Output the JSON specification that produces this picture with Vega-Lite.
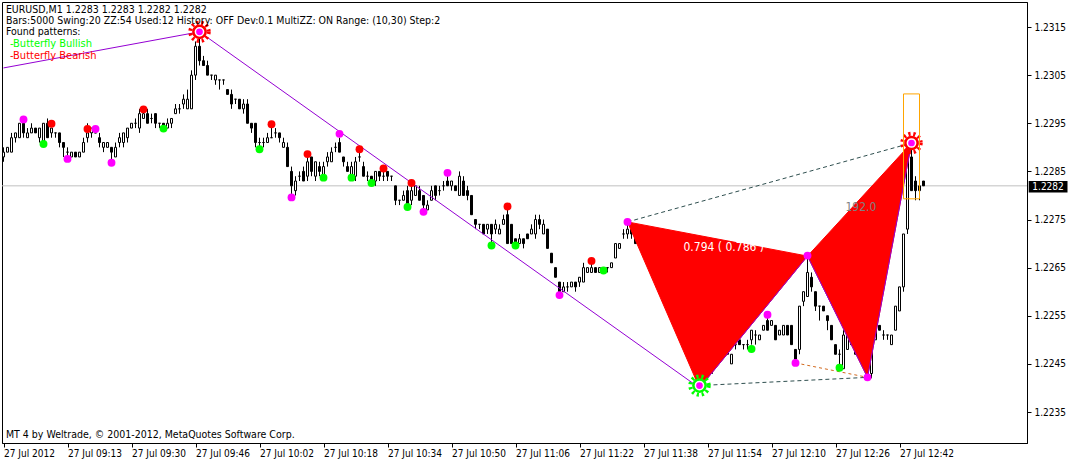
{
"$schema":"https://vega.github.io/schema/vega-lite/v6.json",
"width":1025,"height":441,
"autosize":{"type":"none"},
"padding":{"left":2,"top":2,"right":44,"bottom":17},
"background":"white",
"config":{"view":{"stroke":"black","strokeWidth":1},"axis":{"grid":false,"labelFont":"DejaVu Sans Condensed","labelFontSize":10,"labelColor":"black","domainColor":"black","tickColor":"black","tickSize":4}},
"datasets":{
"bars":[
{"k":0,"o":1.2288,"h":1.2290,"l":1.2287,"c":1.2289},{"k":1,"o":1.2289,"h":1.2290,"l":1.2289,"c":1.2290},{"k":2,"o":1.2289,"h":1.2293,"l":1.2289,"c":1.2292},{"k":3,"o":1.2292,"h":1.2293,"l":1.2291,"c":1.2293},{"k":4,"o":1.2292,"h":1.2295,"l":1.2292,"c":1.2295},{"k":5,"o":1.2295,"h":1.2296,"l":1.2292,"c":1.2293},{"k":6,"o":1.2292,"h":1.2294,"l":1.2292,"c":1.2293},{"k":7,"o":1.2293,"h":1.2295,"l":1.2293,"c":1.2294},{"k":8,"o":1.2294,"h":1.2294,"l":1.2293,"c":1.2293},{"k":9,"o":1.2292,"h":1.2294,"l":1.2291,"c":1.2294},
{"k":10,"o":1.2291,"h":1.2295,"l":1.2291,"c":1.2295},{"k":11,"o":1.2295,"h":1.2296,"l":1.2292,"c":1.2292},{"k":12,"o":1.2293,"h":1.2294,"l":1.2292,"c":1.2294},{"k":13,"o":1.2293,"h":1.2293,"l":1.2292,"c":1.2293},{"k":14,"o":1.2293,"h":1.2293,"l":1.2290,"c":1.2291},{"k":15,"o":1.2291,"h":1.2291,"l":1.2288,"c":1.2290},{"k":16,"o":1.2289,"h":1.2290,"l":1.2288,"c":1.2289},{"k":17,"o":1.2288,"h":1.2289,"l":1.2288,"c":1.2289},{"k":18,"o":1.2289,"h":1.2289,"l":1.2288,"c":1.2288},{"k":19,"o":1.2288,"h":1.2289,"l":1.2288,"c":1.2289},
{"k":20,"o":1.2289,"h":1.2292,"l":1.2289,"c":1.2291},{"k":21,"o":1.2292,"h":1.2295,"l":1.2291,"c":1.2293},{"k":22,"o":1.2293,"h":1.2294,"l":1.2292,"c":1.2294},{"k":23,"o":1.2293,"h":1.2294,"l":1.2293,"c":1.2293},{"k":24,"o":1.2292,"h":1.2293,"l":1.2290,"c":1.2291},{"k":25,"o":1.2290,"h":1.2291,"l":1.2289,"c":1.2291},{"k":26,"o":1.2290,"h":1.2291,"l":1.2290,"c":1.2291},{"k":27,"o":1.2290,"h":1.2290,"l":1.2287,"c":1.2289},{"k":28,"o":1.2288,"h":1.2291,"l":1.2288,"c":1.2290},{"k":29,"o":1.2291,"h":1.2293,"l":1.2290,"c":1.2292},
{"k":30,"o":1.2291,"h":1.2293,"l":1.2290,"c":1.2293},{"k":31,"o":1.2292,"h":1.2294,"l":1.2291,"c":1.2294},{"k":32,"o":1.2294,"h":1.2295,"l":1.2294,"c":1.2295},{"k":33,"o":1.2295,"h":1.2296,"l":1.2294,"c":1.2295},{"k":34,"o":1.2294,"h":1.2298,"l":1.2293,"c":1.2297},{"k":35,"o":1.2296,"h":1.2298,"l":1.2296,"c":1.2297},{"k":36,"o":1.2297,"h":1.2298,"l":1.2295,"c":1.2295},{"k":37,"o":1.2296,"h":1.2297,"l":1.2295,"c":1.2296},{"k":38,"o":1.2297,"h":1.2297,"l":1.2294,"c":1.2295},{"k":39,"o":1.2295,"h":1.2295,"l":1.2294,"c":1.2295},
{"k":40,"o":1.2295,"h":1.2295,"l":1.2294,"c":1.2294},{"k":41,"o":1.2294,"h":1.2296,"l":1.2294,"c":1.2295},{"k":42,"o":1.2295,"h":1.2296,"l":1.2294,"c":1.2296},{"k":43,"o":1.2297,"h":1.2299,"l":1.2297,"c":1.2298},{"k":44,"o":1.2298,"h":1.2299,"l":1.2297,"c":1.2298},{"k":45,"o":1.2299,"h":1.2301,"l":1.2298,"c":1.2300},{"k":46,"o":1.2298,"h":1.2302,"l":1.2298,"c":1.2300},{"k":47,"o":1.2298,"h":1.2306,"l":1.2298,"c":1.2305},{"k":48,"o":1.2305,"h":1.2312,"l":1.2304,"c":1.2311},{"k":49,"o":1.2311,"h":1.2314,"l":1.2307,"c":1.2308},
{"k":50,"o":1.2308,"h":1.2309,"l":1.2307,"c":1.2307},{"k":51,"o":1.2307,"h":1.2308,"l":1.2305,"c":1.2305},{"k":52,"o":1.2305,"h":1.2305,"l":1.2304,"c":1.2305},{"k":53,"o":1.2304,"h":1.2305,"l":1.2303,"c":1.2305},{"k":54,"o":1.2304,"h":1.2304,"l":1.2302,"c":1.2304},{"k":55,"o":1.2304,"h":1.2304,"l":1.2303,"c":1.2304},{"k":56,"o":1.2302,"h":1.2302,"l":1.2301,"c":1.2301},{"k":57,"o":1.2301,"h":1.2302,"l":1.2298,"c":1.2299},{"k":58,"o":1.2300,"h":1.2300,"l":1.2299,"c":1.2300},{"k":59,"o":1.2300,"h":1.2300,"l":1.2298,"c":1.2298},
{"k":60,"o":1.2298,"h":1.2300,"l":1.2297,"c":1.2299},{"k":61,"o":1.2299,"h":1.2300,"l":1.2295,"c":1.2295},{"k":62,"o":1.2295,"h":1.2295,"l":1.2293,"c":1.2294},{"k":63,"o":1.2295,"h":1.2295,"l":1.2290,"c":1.2291},{"k":64,"o":1.2291,"h":1.2292,"l":1.2290,"c":1.2291},{"k":65,"o":1.2291,"h":1.2292,"l":1.2290,"c":1.2291},{"k":66,"o":1.2291,"h":1.2293,"l":1.2291,"c":1.2292},{"k":67,"o":1.2292,"h":1.2295,"l":1.2292,"c":1.2292},{"k":68,"o":1.2293,"h":1.2294,"l":1.2292,"c":1.2293},{"k":69,"o":1.2293,"h":1.2293,"l":1.2291,"c":1.2292},
{"k":70,"o":1.2290,"h":1.2292,"l":1.2290,"c":1.2291},{"k":71,"o":1.2290,"h":1.2291,"l":1.2286,"c":1.2286},{"k":72,"o":1.2285,"h":1.2286,"l":1.2280,"c":1.2282},{"k":73,"o":1.2281,"h":1.2284,"l":1.2280,"c":1.2283},{"k":74,"o":1.2284,"h":1.2285,"l":1.2283,"c":1.2284},{"k":75,"o":1.2285,"h":1.2286,"l":1.2283,"c":1.2283},{"k":76,"o":1.2284,"h":1.2288,"l":1.2283,"c":1.2287},{"k":77,"o":1.2288,"h":1.2288,"l":1.2284,"c":1.2285},{"k":78,"o":1.2284,"h":1.2287,"l":1.2283,"c":1.2287},{"k":79,"o":1.2286,"h":1.2287,"l":1.2284,"c":1.2285},
{"k":80,"o":1.2284,"h":1.2287,"l":1.2283,"c":1.2286},{"k":81,"o":1.2287,"h":1.2289,"l":1.2286,"c":1.2288},{"k":82,"o":1.2287,"h":1.2290,"l":1.2287,"c":1.2289},{"k":83,"o":1.2290,"h":1.2291,"l":1.2289,"c":1.2290},{"k":84,"o":1.2291,"h":1.2292,"l":1.2289,"c":1.2289},{"k":85,"o":1.2288,"h":1.2288,"l":1.2286,"c":1.2287},{"k":86,"o":1.2286,"h":1.2287,"l":1.2285,"c":1.2285},{"k":87,"o":1.2284,"h":1.2287,"l":1.2283,"c":1.2286},{"k":88,"o":1.2284,"h":1.2288,"l":1.2283,"c":1.2287},{"k":89,"o":1.2288,"h":1.2290,"l":1.2287,"c":1.2288},
{"k":90,"o":1.2286,"h":1.2287,"l":1.2284,"c":1.2284},{"k":91,"o":1.2284,"h":1.2285,"l":1.2283,"c":1.2284},{"k":92,"o":1.2284,"h":1.2284,"l":1.2282,"c":1.2283},{"k":93,"o":1.2283,"h":1.2285,"l":1.2282,"c":1.2285},{"k":94,"o":1.2285,"h":1.2285,"l":1.2283,"c":1.2284},{"k":95,"o":1.2284,"h":1.2286,"l":1.2283,"c":1.2284},{"k":96,"o":1.2285,"h":1.2285,"l":1.2283,"c":1.2284},{"k":97,"o":1.2284,"h":1.2284,"l":1.2283,"c":1.2284},{"k":98,"o":1.2282,"h":1.2282,"l":1.2278,"c":1.2279},{"k":99,"o":1.2279,"h":1.2279,"l":1.2278,"c":1.2279},
{"k":100,"o":1.2279,"h":1.2281,"l":1.2279,"c":1.2280},{"k":101,"o":1.2281,"h":1.2282,"l":1.2278,"c":1.2278},{"k":102,"o":1.2279,"h":1.2282,"l":1.2278,"c":1.2281},{"k":103,"o":1.2280,"h":1.2282,"l":1.2280,"c":1.2282},{"k":104,"o":1.2281,"h":1.2282,"l":1.2279,"c":1.2279},{"k":105,"o":1.2280,"h":1.2280,"l":1.2277,"c":1.2278},{"k":106,"o":1.2277,"h":1.2279,"l":1.2277,"c":1.2278},{"k":107,"o":1.2279,"h":1.2282,"l":1.2279,"c":1.2281},{"k":108,"o":1.2282,"h":1.2282,"l":1.2279,"c":1.2280},{"k":109,"o":1.2281,"h":1.2282,"l":1.2280,"c":1.2281},
{"k":110,"o":1.2282,"h":1.2283,"l":1.2281,"c":1.2282},{"k":111,"o":1.2283,"h":1.2284,"l":1.2282,"c":1.2282},{"k":112,"o":1.2282,"h":1.2283,"l":1.2281,"c":1.2283},{"k":113,"o":1.2282,"h":1.2282,"l":1.2281,"c":1.2281},{"k":114,"o":1.2280,"h":1.2285,"l":1.2280,"c":1.2284},{"k":115,"o":1.2283,"h":1.2284,"l":1.2280,"c":1.2280},{"k":116,"o":1.2281,"h":1.2282,"l":1.2279,"c":1.2280},{"k":117,"o":1.2280,"h":1.2280,"l":1.2276,"c":1.2276},{"k":118,"o":1.2275,"h":1.2275,"l":1.2273,"c":1.2274},{"k":119,"o":1.2274,"h":1.2274,"l":1.2273,"c":1.2274},
{"k":120,"o":1.2274,"h":1.2274,"l":1.2272,"c":1.2272},{"k":121,"o":1.2273,"h":1.2274,"l":1.2272,"c":1.2274},{"k":122,"o":1.2274,"h":1.2274,"l":1.2270,"c":1.2272},{"k":123,"o":1.2273,"h":1.2275,"l":1.2272,"c":1.2274},{"k":124,"o":1.2272,"h":1.2274,"l":1.2272,"c":1.2273},{"k":125,"o":1.2274,"h":1.2276,"l":1.2274,"c":1.2275},{"k":126,"o":1.2276,"h":1.2277,"l":1.2270,"c":1.2270},{"k":127,"o":1.2274,"h":1.2274,"l":1.2270,"c":1.2270},{"k":128,"o":1.2271,"h":1.2271,"l":1.2270,"c":1.2270},{"k":129,"o":1.2270,"h":1.2272,"l":1.2270,"c":1.2271},
{"k":130,"o":1.2271,"h":1.2271,"l":1.2269,"c":1.2270},{"k":131,"o":1.2272,"h":1.2272,"l":1.2271,"c":1.2271},{"k":132,"o":1.2272,"h":1.2274,"l":1.2272,"c":1.2273},{"k":133,"o":1.2272,"h":1.2276,"l":1.2271,"c":1.2275},{"k":134,"o":1.2275,"h":1.2276,"l":1.2273,"c":1.2274},{"k":135,"o":1.2272,"h":1.2275,"l":1.2272,"c":1.2274},{"k":136,"o":1.2273,"h":1.2273,"l":1.2269,"c":1.2269},{"k":137,"o":1.2268,"h":1.2268,"l":1.2266,"c":1.2266},{"k":138,"o":1.2265,"h":1.2265,"l":1.2263,"c":1.2263},{"k":139,"o":1.2262,"h":1.2262,"l":1.2259,"c":1.2260},
{"k":140,"o":1.2260,"h":1.2262,"l":1.2260,"c":1.2261},{"k":141,"o":1.2261,"h":1.2262,"l":1.2260,"c":1.2261},{"k":142,"o":1.2261,"h":1.2262,"l":1.2261,"c":1.2262},{"k":143,"o":1.2262,"h":1.2262,"l":1.2260,"c":1.2261},{"k":144,"o":1.2262,"h":1.2263,"l":1.2261,"c":1.2263},{"k":145,"o":1.2262,"h":1.2266,"l":1.2262,"c":1.2265},{"k":146,"o":1.2264,"h":1.2265,"l":1.2264,"c":1.2265},{"k":147,"o":1.2264,"h":1.2266,"l":1.2264,"c":1.2265},{"k":148,"o":1.2265,"h":1.2265,"l":1.2264,"c":1.2264},{"k":149,"o":1.2264,"h":1.2265,"l":1.2264,"c":1.2265},
{"k":150,"o":1.2265,"h":1.2265,"l":1.2264,"c":1.2265},{"k":151,"o":1.2265,"h":1.2265,"l":1.2264,"c":1.2265},{"k":152,"o":1.2265,"h":1.2266,"l":1.2265,"c":1.2266},{"k":153,"o":1.2267,"h":1.2270,"l":1.2267,"c":1.2270},{"k":154,"o":1.2269,"h":1.2270,"l":1.2269,"c":1.2270},{"k":155,"o":1.2272,"h":1.2273,"l":1.2271,"c":1.2272},{"k":156,"o":1.2272,"h":1.2274,"l":1.2271,"c":1.2273},{"k":157,"o":1.2273,"h":1.2274,"l":1.2271,"c":1.2272},{"k":158,"o":1.2273,"h":1.2273,"l":1.2270,"c":1.2270},{"k":159,"o":1.2271,"h":1.2271,"l":1.2270,"c":1.2270},
{"k":160,"o":1.2269,"h":1.2269,"l":1.2268,"c":1.2269},{"k":161,"o":1.2270,"h":1.2271,"l":1.2270,"c":1.2271},{"k":162,"o":1.2270,"h":1.2270,"l":1.2268,"c":1.2268},{"k":163,"o":1.2269,"h":1.2269,"l":1.2268,"c":1.2268},{"k":164,"o":1.2269,"h":1.2269,"l":1.2268,"c":1.2268},{"k":165,"o":1.2269,"h":1.2269,"l":1.2267,"c":1.2268},{"k":166,"o":1.2268,"h":1.2268,"l":1.2266,"c":1.2266},{"k":167,"o":1.2265,"h":1.2265,"l":1.2263,"c":1.2263},{"k":168,"o":1.2262,"h":1.2262,"l":1.2256,"c":1.2256},{"k":169,"o":1.2255,"h":1.2255,"l":1.2253,"c":1.2253},
{"k":170,"o":1.2252,"h":1.2252,"l":1.2249,"c":1.2251},{"k":171,"o":1.2251,"h":1.2253,"l":1.2249,"c":1.2251},{"k":172,"o":1.2253,"h":1.2253,"l":1.2250,"c":1.2250},{"k":173,"o":1.2250,"h":1.2250,"l":1.2243,"c":1.2244},{"k":174,"o":1.2243,"h":1.2244,"l":1.2240,"c":1.2242},{"k":175,"o":1.2244,"h":1.2246,"l":1.2243,"c":1.2245},{"k":176,"o":1.2243,"h":1.2245,"l":1.2242,"c":1.2245},{"k":177,"o":1.2243,"h":1.2246,"l":1.2243,"c":1.2246},{"k":178,"o":1.2245,"h":1.2248,"l":1.2245,"c":1.2248},{"k":179,"o":1.2246,"h":1.2248,"l":1.2246,"c":1.2248},
{"k":180,"o":1.2249,"h":1.2249,"l":1.2247,"c":1.2247},{"k":181,"o":1.2249,"h":1.2250,"l":1.2247,"c":1.2247},{"k":182,"o":1.2245,"h":1.2247,"l":1.2245,"c":1.2247},{"k":183,"o":1.2249,"h":1.2250,"l":1.2248,"c":1.2249},{"k":184,"o":1.2250,"h":1.2250,"l":1.2249,"c":1.2249},{"k":185,"o":1.2249,"h":1.2249,"l":1.2248,"c":1.2249},{"k":186,"o":1.2249,"h":1.2250,"l":1.2248,"c":1.2249},{"k":187,"o":1.2250,"h":1.2252,"l":1.2249,"c":1.2252},{"k":188,"o":1.2251,"h":1.2252,"l":1.2249,"c":1.2251},{"k":189,"o":1.2250,"h":1.2251,"l":1.2250,"c":1.2251},
{"k":190,"o":1.2252,"h":1.2253,"l":1.2252,"c":1.2253},{"k":191,"o":1.2254,"h":1.2255,"l":1.2252,"c":1.2252},{"k":192,"o":1.2253,"h":1.2254,"l":1.2253,"c":1.2254},{"k":193,"o":1.2253,"h":1.2253,"l":1.2250,"c":1.2250},{"k":194,"o":1.2251,"h":1.2252,"l":1.2251,"c":1.2252},{"k":195,"o":1.2251,"h":1.2253,"l":1.2251,"c":1.2253},{"k":196,"o":1.2253,"h":1.2253,"l":1.2251,"c":1.2251},{"k":197,"o":1.2253,"h":1.2253,"l":1.2249,"c":1.2249},{"k":198,"o":1.2248,"h":1.2248,"l":1.2245,"c":1.2246},{"k":199,"o":1.2248,"h":1.2257,"l":1.2247,"c":1.2257},
{"k":200,"o":1.2258,"h":1.2260,"l":1.2257,"c":1.2260},{"k":201,"o":1.2259,"h":1.2267,"l":1.2259,"c":1.2264},{"k":202,"o":1.2263,"h":1.2264,"l":1.2260,"c":1.2261},{"k":203,"o":1.2260,"h":1.2260,"l":1.2256,"c":1.2257},{"k":204,"o":1.2257,"h":1.2257,"l":1.2254,"c":1.2257},{"k":205,"o":1.2257,"h":1.2257,"l":1.2256,"c":1.2256},{"k":206,"o":1.2255,"h":1.2255,"l":1.2252,"c":1.2254},{"k":207,"o":1.2253,"h":1.2253,"l":1.2250,"c":1.2250},{"k":208,"o":1.2249,"h":1.2249,"l":1.2247,"c":1.2247},{"k":209,"o":1.2247,"h":1.2248,"l":1.2244,"c":1.2247},
{"k":210,"o":1.2244,"h":1.2252,"l":1.2244,"c":1.2251},{"k":211,"o":1.2248,"h":1.2251,"l":1.2248,"c":1.2251},{"k":212,"o":1.2250,"h":1.2250,"l":1.2249,"c":1.2249},{"k":213,"o":1.2250,"h":1.2250,"l":1.2247,"c":1.2247},{"k":214,"o":1.2248,"h":1.2249,"l":1.2247,"c":1.2248},{"k":215,"o":1.2248,"h":1.2248,"l":1.2246,"c":1.2246},{"k":216,"o":1.2246,"h":1.2246,"l":1.2242,"c":1.2243},{"k":217,"o":1.2243,"h":1.2252,"l":1.2242,"c":1.2252},{"k":218,"o":1.2250,"h":1.2253,"l":1.2250,"c":1.2252},{"k":219,"o":1.2253,"h":1.2253,"l":1.2252,"c":1.2252},
{"k":220,"o":1.2251,"h":1.2252,"l":1.2250,"c":1.2251},{"k":221,"o":1.2251,"h":1.2251,"l":1.2250,"c":1.2251},{"k":222,"o":1.2249,"h":1.2251,"l":1.2249,"c":1.2251},{"k":223,"o":1.2252,"h":1.2257,"l":1.2252,"c":1.2257},{"k":224,"o":1.2256,"h":1.2261,"l":1.2256,"c":1.2261},{"k":225,"o":1.2261,"h":1.2272,"l":1.2260,"c":1.2272},{"k":226,"o":1.2273,"h":1.2289,"l":1.2272,"c":1.2289},{"k":227,"o":1.2288,"h":1.2291,"l":1.2281,"c":1.2281},{"k":228,"o":1.2283,"h":1.2284,"l":1.2279,"c":1.2281},{"k":229,"o":1.2281,"h":1.2283,"l":1.2279,"c":1.2282},
{"k":230,"o":1.2283,"h":1.2283,"l":1.2282,"c":1.2282}
],
"dots":[
{"k":5,"p":1.22958,"t":"m"},{"k":10,"p":1.22907,"t":"g"},{"k":12,"p":1.22949,"t":"r"},{"k":16,"p":1.22876,"t":"m"},{"k":21,"p":1.22938,"t":"r"},{"k":23,"p":1.22938,"t":"m"},{"k":27,"p":1.22868,"t":"m"},{"k":35,"p":1.22979,"t":"r"},{"k":40,"p":1.22939,"t":"g"},{"k":64,"p":1.22896,"t":"g"},{"k":67,"p":1.22948,"t":"r"},{"k":72,"p":1.22796,"t":"m"},{"k":76,"p":1.22886,"t":"r"},{"k":80,"p":1.22837,"t":"g"},{"k":84,"p":1.22928,"t":"m"},{"k":87,"p":1.22837,"t":"g"},{"k":89,"p":1.22896,"t":"r"},{"k":92,"p":1.22826,"t":"g"},{"k":95,"p":1.22856,"t":"r"},{"k":101,"p":1.22776,"t":"g"},{"k":102,"p":1.22826,"t":"r"},{"k":105,"p":1.22766,"t":"m"},{"k":111,"p":1.22847,"t":"m"},{"k":122,"p":1.22696,"t":"g"},{"k":126,"p":1.22777,"t":"r"},{"k":128,"p":1.22696,"t":"g"},{"k":139,"p":1.22593,"t":"m"},{"k":147,"p":1.22664,"t":"r"},{"k":150,"p":1.22644,"t":"g"},{"k":156,"p":1.22745,"t":"m"},{"k":187,"p":1.22481,"t":"g"},{"k":191,"p":1.22552,"t":"m"},{"k":198,"p":1.22452,"t":"m"},{"k":201,"p":1.22675,"t":"m"},{"k":209,"p":1.22442,"t":"g"},{"k":216,"p":1.22422,"t":"m"}
],
"suns":[{"k":49,"p":1.2314,"t":"bear"},{"k":227,"p":1.22909,"t":"bear"},{"k":174,"p":1.22405,"t":"bull"}],
"tri":[
{"g":1,"o":1,"k":156,"p":1.22745},{"g":1,"o":2,"k":174,"p":1.2240},{"g":1,"o":3,"k":201,"p":1.22674},
{"g":2,"o":1,"k":201,"p":1.22674},{"g":2,"o":2,"k":216,"p":1.22422},{"g":2,"o":3,"k":227,"p":1.22909}
],
"zz":[{"o":1,"k":0,"p":1.23065},{"o":2,"k":49,"p":1.2314},{"o":3,"k":174,"p":1.2240},{"o":4,"k":201,"p":1.22674},{"o":5,"k":216,"p":1.22422},{"o":6,"k":227,"p":1.22909}],
"dash":[{"g":"XD","k":156,"p":1.22745},{"g":"XD","k":227,"p":1.22909},{"g":"AC","k":174,"p":1.22405},{"g":"AC","k":216,"p":1.22422}]
},
"layer":[
{"data":{"values":[{"p":1.2282}]},"mark":{"type":"rule","color":"#C0C0C0","strokeWidth":1},
 "encoding":{"y":{"field":"p","type":"quantitative","title":null,"scale":{"domain":[1.222856,1.23202],"nice":false,"zero":false},
  "axis":{"orient":"right","values":[1.2235,1.2245,1.2255,1.2265,1.2275,1.2285,1.2295,1.2305,1.2315],"format":".4f","labelPadding":3,"domain":true}}}},
{"data":{"name":"bars"},"mark":{"type":"rule","color":"black","strokeWidth":1},
 "encoding":{"x":{"field":"k","type":"quantitative","title":null,"scale":{"domain":[-0.375,255.875],"nice":false,"zero":false,"padding":0},
   "axis":{"orient":"bottom","values":[0,16,32,48,64,80,96,112,128,144,160,176,192,208,224],"labelAlign":"left","labelPadding":1,"labelFlush":false,"labelOverlap":false,
   "labelExpr":"'27 Jul ' + ['2012','09:13','09:30','09:46','10:02','10:18','10:34','10:50','11:06','11:22','11:38','11:54','12:10','12:26','12:42'][round(datum.value/16)]"}},
  "y":{"field":"l","type":"quantitative","title":null},"y2":{"field":"h","title":null}}},
{"data":{"name":"bars"},"mark":{"type":"bar","size":2,"stroke":"black","strokeWidth":1},
 "encoding":{"x":{"field":"k","type":"quantitative","title":null},"y":{"field":"o","type":"quantitative","title":null},"y2":{"field":"c","title":null},
  "fill":{"condition":{"test":"datum.c >= datum.o","value":"white"},"value":"black"}}},
{"data":{"name":"tri"},"mark":{"type":"line","interpolate":"linear-closed","fill":"#FF0000","stroke":"#FF0000","strokeWidth":1},
 "encoding":{"x":{"field":"k","type":"quantitative","title":null},"y":{"field":"p","type":"quantitative","title":null},"detail":{"field":"g"},"order":{"field":"o"}}},
{"data":{"name":"zz"},"mark":{"type":"line","color":"#9400D3","strokeWidth":1},
 "encoding":{"x":{"field":"k","type":"quantitative","title":null},"y":{"field":"p","type":"quantitative","title":null},"order":{"field":"o"}}},
{"data":{"name":"dash"},"mark":{"type":"line","color":"#2F4F4F","strokeWidth":1,"strokeDash":[4,3]},
 "encoding":{"x":{"field":"k","type":"quantitative","title":null},"y":{"field":"p","type":"quantitative","title":null},"detail":{"field":"g"}}},
{"data":{"values":[{"k":198,"p":1.22452},{"k":216,"p":1.22422}]},"mark":{"type":"line","color":"#D2691E","strokeWidth":1,"strokeDash":[3,3]},
 "encoding":{"x":{"field":"k","type":"quantitative","title":null},"y":{"field":"p","type":"quantitative","title":null}}},
{"data":{"name":"dots"},"mark":{"type":"point","shape":"circle","filled":true,"size":62,"opacity":1},
 "encoding":{"x":{"field":"k","type":"quantitative","title":null},"y":{"field":"p","type":"quantitative","title":null},
  "color":{"field":"t","type":"nominal","legend":null,"scale":{"domain":["r","g","m"],"range":["#FF0000","#00FF00","#FF00FF"]}}}},
{"data":{"name":"suns"},"mark":{"type":"point","shape":"circle","filled":true,"size":120,"color":"white","opacity":1},
 "encoding":{"x":{"field":"k","type":"quantitative","title":null},"y":{"field":"p","type":"quantitative","title":null}}},
{"data":{"name":"suns"},"mark":{"type":"point","shape":"circle","filled":false,"size":150,"strokeWidth":2.5,"opacity":1},
 "encoding":{"x":{"field":"k","type":"quantitative","title":null},"y":{"field":"p","type":"quantitative","title":null},
  "stroke":{"field":"t","type":"nominal","legend":null,"scale":{"domain":["bear","bull"],"range":["#FF0000","#00FF00"]}}}},
{"data":{"name":"suns"},"mark":{"type":"point","shape":"circle","filled":false,"size":340,"strokeWidth":4,"strokeDash":[2.2,2.8],"opacity":1},
 "encoding":{"x":{"field":"k","type":"quantitative","title":null},"y":{"field":"p","type":"quantitative","title":null},
  "stroke":{"field":"t","type":"nominal","legend":null,"scale":{"domain":["bear","bull"],"range":["#FF0000","#00FF00"]}}}},
{"data":{"name":"suns"},"mark":{"type":"point","shape":"circle","filled":true,"size":45,"color":"#FF00FF","opacity":1},
 "encoding":{"x":{"field":"k","type":"quantitative","title":null},"y":{"field":"p","type":"quantitative","title":null}}},
{"data":{"values":[{"k1":225,"k2":229,"p1":1.23011,"p2":1.22793}]},"mark":{"type":"rect","fill":null,"fillOpacity":0,"stroke":"#FFA500","strokeWidth":1},
 "encoding":{"x":{"field":"k1","type":"quantitative","title":null},"x2":{"field":"k2"},"y":{"field":"p1","type":"quantitative","title":null},"y2":{"field":"p2"}}},
{"data":{"values":[{"k":170,"p":1.22693,"s":"0.794 ( 0.786 )"}]},"mark":{"type":"text","align":"left","baseline":"middle","color":"white","font":"DejaVu Sans Condensed","fontSize":12},
 "encoding":{"x":{"field":"k","type":"quantitative","title":null},"y":{"field":"p","type":"quantitative","title":null},"text":{"field":"s"}}},
{"data":{"values":[{"k":210.5,"p":1.22776,"s":"192.0"}]},"mark":{"type":"text","align":"left","baseline":"middle","color":"#808080","font":"DejaVu Sans Condensed","fontSize":12},
 "encoding":{"x":{"field":"k","type":"quantitative","title":null},"y":{"field":"p","type":"quantitative","title":null},"text":{"field":"s"}}},
{"data":{"values":[
 {"k":0.6,"p":1.23185,"s":"EURUSD,M1  1.2283 1.2283 1.2282 1.2282"},
 {"k":0.6,"p":1.23162,"s":"Bars:5000  Swing:20  ZZ:54  Used:12  History: OFF Dev:0.1  MultiZZ: ON  Range: (10,30)  Step:2"},
 {"k":0.6,"p":1.2314,"s":"Found patterns:"},
 {"k":0.6,"p":1.22302,"s":"MT 4 by Weltrade, © 2001-2012, MetaQuotes Software Corp."}]},
 "mark":{"type":"text","align":"left","baseline":"middle","color":"black","font":"DejaVu Sans Condensed","fontSize":10.5},
 "encoding":{"x":{"field":"k","type":"quantitative","title":null},"y":{"field":"p","type":"quantitative","title":null},"text":{"field":"s"}}},
{"data":{"values":[{"k":1.6,"p":1.23115,"s":"-Butterfly Bullish","t":"bull"},{"k":1.6,"p":1.23089,"s":"-Butterfly Bearish","t":"bear"}]},
 "mark":{"type":"text","align":"left","baseline":"middle","font":"DejaVu Sans Condensed","fontSize":11},
 "encoding":{"x":{"field":"k","type":"quantitative","title":null},"y":{"field":"p","type":"quantitative","title":null},"text":{"field":"s"},
  "color":{"field":"t","type":"nominal","legend":null,"scale":{"domain":["bear","bull"],"range":["#FF0000","#32CD32"]}}}},
{"data":{"values":[{"k1":256.3,"k2":266,"p1":1.2283,"p2":1.22806}]},"mark":{"type":"rect","color":"black"},
 "encoding":{"x":{"field":"k1","type":"quantitative","title":null},"x2":{"field":"k2"},"y":{"field":"p1","type":"quantitative","title":null},"y2":{"field":"p2"}}},
{"data":{"values":[{"k":257.2,"p":1.22818,"s":"1.2282"}]},"mark":{"type":"text","align":"left","baseline":"middle","color":"white","font":"DejaVu Sans Condensed","fontSize":10},
 "encoding":{"x":{"field":"k","type":"quantitative","title":null},"y":{"field":"p","type":"quantitative","title":null},"text":{"field":"s"}}}
]
}
